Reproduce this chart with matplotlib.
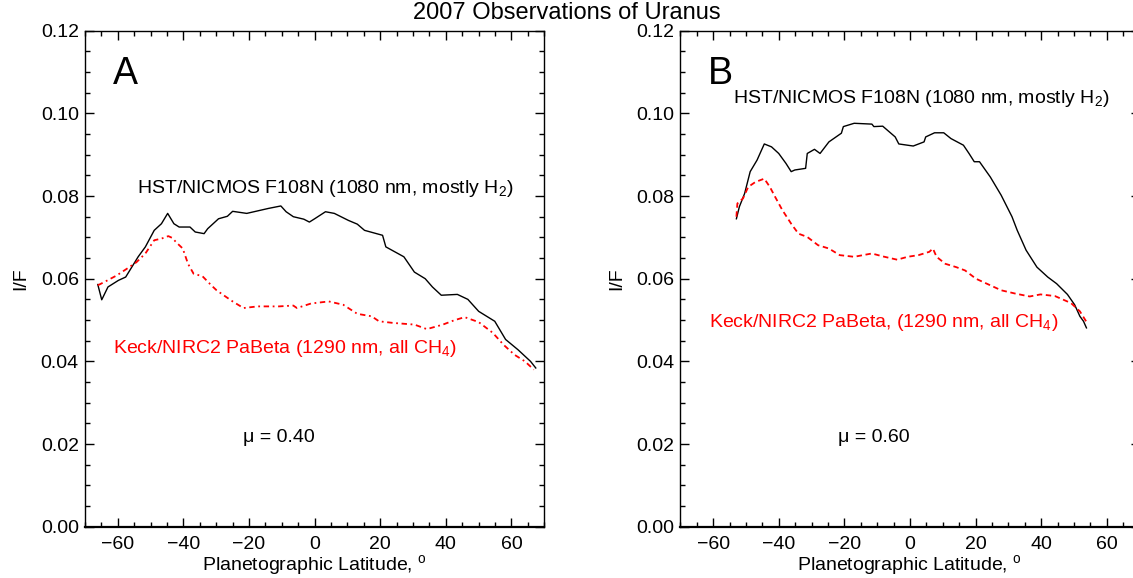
import matplotlib
matplotlib.use('Agg')
import matplotlib.pyplot as plt
from matplotlib.ticker import MultipleLocator

plt.rcParams['font.family'] = ['Liberation Sans', 'DejaVu Sans']
plt.rcParams['mathtext.fontset'] = 'custom'
plt.rcParams['mathtext.rm'] = 'Liberation Sans'
plt.rcParams['mathtext.it'] = 'Liberation Sans:italic'
plt.rcParams['mathtext.bf'] = 'Liberation Sans:bold'

# panel A (mu = 0.40)
lat_a_hst = [-66.1, -64.9, -63.0, -59.8, -57.6, -53.8, -51.6, -48.9, -46.7, -44.8, -42.9, -41.3,
             -38.0, -36.4, -33.7, -32.6, -29.3, -26.6, -25.0, -20.7, -14.1, -10.3, -8.7, -6.5,
             -3.3, -1.6, 0.0, 3.3, 6.0, 10.3, 13.0, 15.2, 20.7, 21.7, 27.2, 30.4, 33.7, 35.9,
             38.6, 43.5, 46.7, 50.0, 54.9, 58.2, 62.0, 65.8, 67.4]
if_a_hst = [0.0586, 0.0549, 0.0580, 0.0596, 0.0604, 0.0653, 0.0677, 0.0717, 0.0733, 0.0758, 0.0733, 0.0725,
            0.0725, 0.0713, 0.0709, 0.0721, 0.0745, 0.0751, 0.0763, 0.0758, 0.0770, 0.0776, 0.0762, 0.0750,
            0.0744, 0.0737, 0.0745, 0.0762, 0.0758, 0.0741, 0.0732, 0.0717, 0.0705, 0.0677, 0.0653, 0.0616,
            0.0600, 0.0580, 0.0560, 0.0562, 0.0550, 0.0521, 0.0497, 0.0453, 0.0428, 0.0400, 0.0384]
lat_a_keck = [-66.1, -64.1, -60.3, -56.5, -54.3, -51.6, -48.9, -46.7, -44.6, -43.5, -41.8, -40.2,
              -38.6, -36.9, -34.2, -31.5, -29.9, -27.2, -25.0, -21.7, -17.4, -10.9, -6.5, -5.4,
              -1.1, 4.3, 8.7, 13.0, 17.4, 19.6, 23.9, 30.4, 34.2, 39.1, 42.4, 45.7, 50.0, 54.3,
              57.6, 60.9, 64.1, 66.8]
if_a_keck = [0.0584, 0.0592, 0.0608, 0.0628, 0.0640, 0.0661, 0.0693, 0.0697, 0.0703, 0.0699, 0.0685, 0.0673,
             0.0636, 0.0612, 0.0606, 0.0584, 0.0572, 0.0557, 0.0545, 0.0529, 0.0533, 0.0533, 0.0535, 0.0529,
             0.0540, 0.0545, 0.0537, 0.0515, 0.0509, 0.0497, 0.0493, 0.0489, 0.0478, 0.0489, 0.0499, 0.0507,
             0.0495, 0.0469, 0.0440, 0.0416, 0.0400, 0.0380]

# panel B (mu = 0.60)
lat_b_hst = [-52.9, -52.0, -50.4, -48.7, -46.6, -44.4, -42.2, -40.0, -37.8, -36.2, -35.1, -31.8,
             -31.3, -29.1, -27.4, -24.7, -20.9, -20.3, -17.0, -11.6, -11.0, -8.3, -4.5, -3.4,
             1.0, 4.3, 4.8, 7.5, 10.3, 12.5, 16.3, 18.0, 19.6, 21.2, 24.5, 27.8, 31.1, 32.7,
             35.4, 38.7, 42.0, 44.7, 48.0, 50.2, 51.8, 52.9, 53.8]
if_b_hst = [0.0745, 0.0774, 0.0806, 0.0859, 0.0887, 0.0926, 0.0919, 0.0903, 0.0879, 0.0859, 0.0863, 0.0867,
            0.0903, 0.0913, 0.0903, 0.0931, 0.0952, 0.0968, 0.0976, 0.0974, 0.0968, 0.0969, 0.0943, 0.0926,
            0.0921, 0.0931, 0.0943, 0.0953, 0.0953, 0.0939, 0.0923, 0.0903, 0.0883, 0.0883, 0.0846, 0.0802,
            0.0750, 0.0717, 0.0669, 0.0628, 0.0604, 0.0588, 0.0562, 0.0537, 0.0509, 0.0497, 0.0481]
lat_b_keck = [-52.9, -52.6, -50.9, -49.3, -47.1, -44.4, -42.7, -41.1, -38.9, -36.2, -34.0, -31.3,
              -28.0, -24.7, -21.4, -17.0, -11.6, -8.3, -3.9, -0.7, 2.6, 5.9, 7.0, 8.1,
              10.8, 14.1, 16.8, 20.1, 23.4, 27.8, 32.1, 36.5, 39.8, 44.2, 49.1, 51.8, 54.0]
if_b_keck = [0.0750, 0.0782, 0.0794, 0.0822, 0.0834, 0.0842, 0.0822, 0.0798, 0.0766, 0.0733, 0.0709, 0.0701,
             0.0681, 0.0673, 0.0657, 0.0653, 0.0661, 0.0654, 0.0646, 0.0653, 0.0657, 0.0665, 0.0673, 0.0653,
             0.0636, 0.0628, 0.0620, 0.0600, 0.0588, 0.0572, 0.0564, 0.0557, 0.0562, 0.0558, 0.0541, 0.0521,
             0.0493]

fig = plt.figure(figsize=(11.33, 5.78), dpi=100)
W, H = 1133.0, 578.0
ax1 = fig.add_axes([85 / W, 1 - 526.7 / H, 459.3 / W, 496 / H])
ax2 = fig.add_axes([680.3 / W, 1 - 526.7 / H, 459.3 / W, 496 / H])

fig.text(0.5, 1 - 13 / H, '2007 Observations of Uranus', ha='center', va='center', fontsize=17)


def style(ax):
    ax.set_xlim(-70, 70)
    ax.set_ylim(0, 0.12)
    ax.xaxis.set_major_locator(MultipleLocator(20))
    ax.xaxis.set_minor_locator(MultipleLocator(5))
    ax.yaxis.set_major_locator(MultipleLocator(0.02))
    ax.yaxis.set_minor_locator(MultipleLocator(0.005))
    ax.yaxis.set_major_formatter(matplotlib.ticker.FormatStrFormatter('%.2f'))
    ax.tick_params(which='both', direction='in', top=True, right=True, width=1.0, labelsize=14)
    ax.tick_params(which='major', length=6.5)
    ax.tick_params(which='minor', length=3.3)
    ax.tick_params(axis='x', pad=7)
    ax.tick_params(axis='y', pad=4.5)
    for s in ax.spines.values():
        s.set_linewidth(1.0)
    ax.spines['bottom'].set_linewidth(1.6)
    ax.set_xlabel(r'Planetographic Latitude, $^{\mathrm{o}}$', fontsize=14, labelpad=0)
    ax.set_ylabel('I/F', fontsize=14, labelpad=8)


style(ax1)
style(ax2)

ax1.plot(lat_a_hst, if_a_hst, color='black', lw=1.0)
ax1.plot(lat_a_keck, if_a_keck, color='red', lw=1.3, ls=(0, (3, 2, 1, 2)))
ax1.text(-57.6, 0.1095, 'A', fontsize=27, ha='center', va='center')
ax1.text(3.3, 0.0818, r'HST/NICMOS F108N (1080 nm, mostly H$_2$)', fontsize=14, ha='center', va='center')
ax1.text(-9.0, 0.0432, r'Keck/NIRC2 PaBeta (1290 nm, all CH$_4$)', fontsize=14, ha='center', va='center',
         color='red')
ax1.text(-21.7, 0.0217, 'μ = 0.40', fontsize=14, ha='left', va='center')

ax2.plot(lat_b_hst, if_b_hst, color='black', lw=1.0)
ax2.plot(lat_b_keck, if_b_keck, color='red', lw=1.3, ls=(0, (3, 2)))
ax2.text(-57.8, 0.1095, 'B', fontsize=27, ha='center', va='center')
ax2.text(3.3, 0.1036, r'HST/NICMOS F108N (1080 nm, mostly H$_2$)', fontsize=14, ha='center', va='center')
ax2.text(-8.0, 0.0493, r'Keck/NIRC2 PaBeta, (1290 nm, all CH$_4$)', fontsize=14, ha='center', va='center',
         color='red')
ax2.text(-22.0, 0.0217, 'μ = 0.60', fontsize=14, ha='left', va='center')

fig.savefig('out.png', dpi=100)
